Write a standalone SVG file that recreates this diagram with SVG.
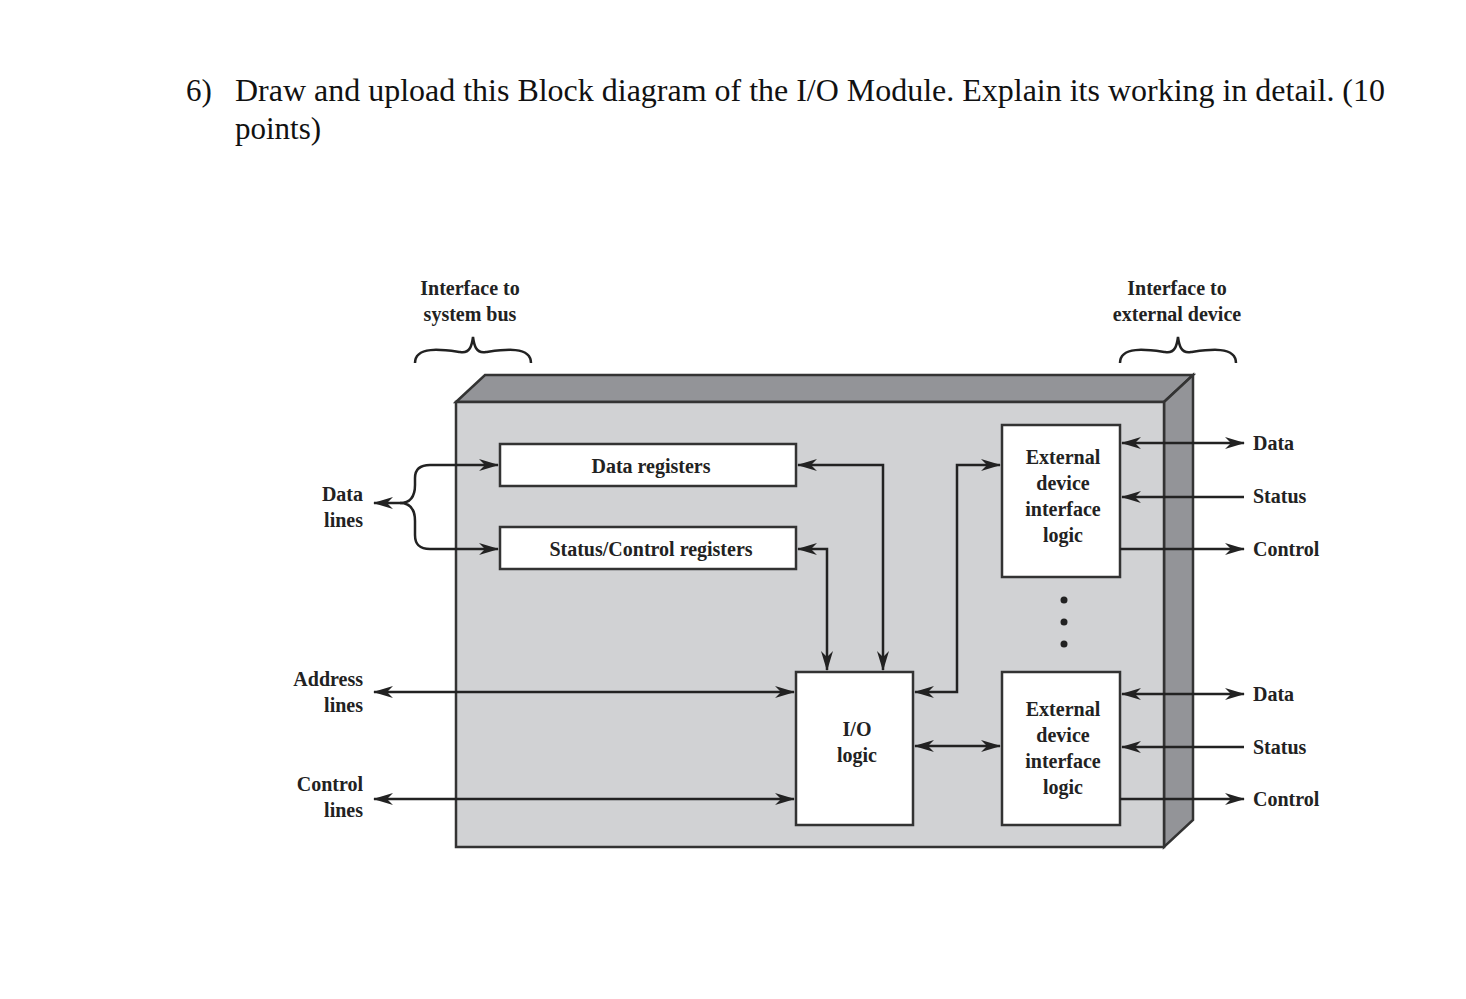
<svg xmlns="http://www.w3.org/2000/svg" width="1466" height="999" viewBox="0 0 1466 999">
<style>
.t{font-family:"Liberation Serif","Times New Roman",serif;font-size:31px;fill:#111}
.l{font-family:"Liberation Serif","Times New Roman",serif;font-size:20px;font-weight:bold;fill:#222}
.bx{fill:#fff;stroke:#333;stroke-width:2.5}
.c{fill:none;stroke:#222;stroke-width:2.5}
</style>
<defs>
<marker id="a" viewBox="0 0 20 12" refX="19" refY="6" markerWidth="20" markerHeight="12" markerUnits="userSpaceOnUse" orient="auto-start-reverse"><path d="M0,0 L20,6 L0,12 L6,6 Z" fill="#222"/></marker>
</defs>
<rect width="1466" height="999" fill="#fff"/>
<text class="t" x="186" y="101">6)</text>
<text class="t" x="235" y="101" textLength="1150" lengthAdjust="spacingAndGlyphs">Draw and upload this Block diagram of the I/O Module. Explain its working in detail. (10</text>
<text class="t" x="235" y="139">points)</text>
<g id="frame">
<polygon points="456,402 485,375 1193,375 1164,402" fill="#939498" stroke="#333" stroke-width="2.5"/>
<polygon points="1164,402 1193,375 1193,820 1164,847" fill="#939498" stroke="#333" stroke-width="2.5"/>
<rect x="456" y="402" width="708" height="445" fill="#d1d2d4" stroke="#333" stroke-width="2.5"/>
</g>
<g id="labels">
<text class="l" x="470" y="295" text-anchor="middle">Interface to</text>
<text class="l" x="470" y="321" text-anchor="middle">system bus</text>
<text class="l" x="1177" y="295" text-anchor="middle">Interface to</text>
<text class="l" x="1177" y="321" text-anchor="middle">external device</text>
<path class="c" stroke-width="1.8" d="M415,363 C415,345 445,350 460,352 C470,354 472,345 473,337 C474,345 476,354 486,352 C501,350 531,345 531,363"/>
<path class="c" stroke-width="1.8" d="M1120,363 C1120,345 1150,350 1165,352 C1175,354 1177,345 1178,337 C1179,345 1181,354 1191,352 C1206,350 1236,345 1236,363"/>
<text class="l" x="363" y="501" text-anchor="end">Data</text>
<text class="l" x="363" y="527" text-anchor="end">lines</text>
<text class="l" x="363" y="686" text-anchor="end">Address</text>
<text class="l" x="363" y="712" text-anchor="end">lines</text>
<text class="l" x="363" y="791" text-anchor="end">Control</text>
<text class="l" x="363" y="817" text-anchor="end">lines</text>
<text class="l" x="1253" y="450">Data</text>
<text class="l" x="1253" y="503">Status</text>
<text class="l" x="1253" y="556">Control</text>
<text class="l" x="1253" y="701">Data</text>
<text class="l" x="1253" y="754">Status</text>
<text class="l" x="1253" y="806">Control</text>
<circle cx="1064" cy="600" r="3.5" fill="#222"/>
<circle cx="1064" cy="622" r="3.5" fill="#222"/>
<circle cx="1064" cy="644" r="3.5" fill="#222"/>
</g>
<g id="dataReg"><rect class="bx" x="500" y="444" width="296" height="42"/><text class="l" x="651" y="473" text-anchor="middle">Data registers</text></g>
<g id="statusReg"><rect class="bx" x="500" y="527" width="296" height="42"/><text class="l" x="651" y="556" text-anchor="middle">Status/Control registers</text></g>
<g id="ioLogic"><rect class="bx" x="796" y="672" width="117" height="153"/><text class="l" x="857" y="736" text-anchor="middle">I/O</text><text class="l" x="857" y="762" text-anchor="middle">logic</text></g>
<g id="ext1"><rect class="bx" x="1002" y="425" width="118" height="152"/>
<text class="l" x="1063" y="464" text-anchor="middle">External</text><text class="l" x="1063" y="490" text-anchor="middle">device</text><text class="l" x="1063" y="516" text-anchor="middle">interface</text><text class="l" x="1063" y="542" text-anchor="middle">logic</text></g>
<g id="ext2"><rect class="bx" x="1002" y="672" width="118" height="153"/>
<text class="l" x="1063" y="716" text-anchor="middle">External</text><text class="l" x="1063" y="742" text-anchor="middle">device</text><text class="l" x="1063" y="768" text-anchor="middle">interface</text><text class="l" x="1063" y="794" text-anchor="middle">logic</text></g>
<g id="connectors">
<path class="c" d="M374,503 L400,503 C412,503 415,495 415,485 L415,478 C415,469 420,465 430,465 L498,465" marker-start="url(#a)" marker-end="url(#a)"/>
<path class="c" d="M400,503 C412,503 415,511 415,521 L415,535 C415,545 420,549 430,549 L498,549" marker-end="url(#a)"/>
<path class="c" d="M798,465 L883,465 L883,670" marker-start="url(#a)" marker-end="url(#a)"/>
<path class="c" d="M798,549 L827,549 L827,670" marker-start="url(#a)" marker-end="url(#a)"/>
<path class="c" d="M374,692 L794,692" marker-start="url(#a)" marker-end="url(#a)"/>
<path class="c" d="M374,799 L794,799" marker-start="url(#a)" marker-end="url(#a)"/>
<path class="c" d="M915,692 L957,692 L957,465 L1000,465" marker-start="url(#a)" marker-end="url(#a)"/>
<path class="c" d="M915,746 L1000,746" marker-start="url(#a)" marker-end="url(#a)"/>
<path class="c" d="M1122,443 L1244,443" marker-start="url(#a)" marker-end="url(#a)"/>
<path class="c" d="M1244,497 L1122,497" marker-end="url(#a)"/>
<path class="c" d="M1120,549 L1244,549" marker-end="url(#a)"/>
<path class="c" d="M1122,694 L1244,694" marker-start="url(#a)" marker-end="url(#a)"/>
<path class="c" d="M1244,747 L1122,747" marker-end="url(#a)"/>
<path class="c" d="M1120,799 L1244,799" marker-end="url(#a)"/>
</g>
</svg>
